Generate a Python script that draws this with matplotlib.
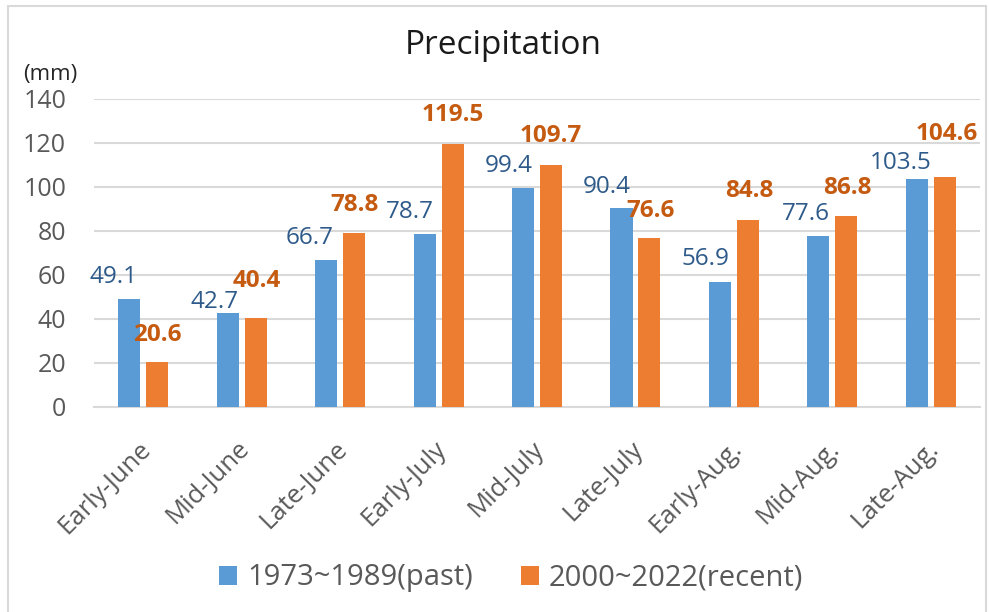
import matplotlib.pyplot as plt
import matplotlib.patches as patches
import matplotlib.transforms as mtransforms
import numpy as np

plt.rcParams['font.family'] = ['Open Sans', 'DejaVu Sans']

categories = ['Early-June', 'Mid-June', 'Late-June', 'Early-July', 'Mid-July',
              'Late-July', 'Early-Aug.', 'Mid-Aug.', 'Late-Aug.']
past = [49.1, 42.7, 66.7, 78.7, 99.4, 90.4, 56.9, 77.6, 103.5]
recent = [20.6, 40.4, 78.8, 119.5, 109.7, 76.6, 84.8, 86.8, 104.6]
series_names = ['1973~1989(past)', '2000~2022(recent)']

# label offsets (pixels) as placed in the original chart
past_dx = [-16, -13, -16, -15, -14, -15, -15, -13, -16]
past_dy = [22, 11, 22, 22, 22, 21, 23, 22, 16]
recent_dx = [0, 1, 0, 0, 0, 1, 1, 1, 2]
recent_dy = [27, 37, 28, 29, 29, 27, 29, 28, 43]

blue = '#5B9BD5'
orange = '#ED7D31'
grid_c = '#D9D9D9'
text_c = '#595959'

fig = plt.figure(figsize=(9.89, 6.12), dpi=100)
ax = fig.add_axes([0.095, 0.335, 0.896, 0.504])

x = np.arange(len(categories))
w = 0.224
off = 0.142
b1 = ax.bar(x - off, past, w, color=blue, label=series_names[0], zorder=3)
b2 = ax.bar(x + off, recent, w, color=orange, label=series_names[1], zorder=3)

for i in range(len(categories)):
    ax.annotate(f'{past[i]:.1f}', xy=(x[i] - off, past[i]),
                xytext=(past_dx[i], past_dy[i]), textcoords='offset pixels',
                ha='center', va='center', fontsize=17.5, color='#2E5A8A', zorder=4)
    ax.annotate(f'{recent[i]:.1f}', xy=(x[i] + off, recent[i]),
                xytext=(recent_dx[i], recent_dy[i]), textcoords='offset pixels',
                ha='center', va='center', fontsize=17.5, fontweight='bold',
                color='#C55A11', zorder=4)

ax.set_xlim(-0.5, len(categories) - 0.5)
ax.set_ylim(0, 140)
ax.set_yticks(np.arange(0, 141, 20))
ax.yaxis.grid(True, color=grid_c, linewidth=1.5, zorder=0)
for s in ['top', 'right', 'left']:
    ax.spines[s].set_visible(False)
ax.spines['bottom'].set_color(grid_c)
ax.spines['bottom'].set_linewidth(1.5)
ax.tick_params(axis='y', length=0, pad=20, labelsize=18, labelcolor=text_c)
ax.tick_params(axis='x', length=0, pad=21, labelsize=18.5, labelcolor=text_c)
ax.set_xticks(x)
ax.set_xticklabels(categories, rotation=45, ha='right', rotation_mode='anchor')
shift = mtransforms.ScaledTranslation(-5 / 100, 0, fig.dpi_scale_trans)
for lab in ax.get_xticklabels():
    lab.set_transform(lab.get_transform() + shift)

fig.text(0.509, 0.925, 'Precipitation', ha='center', va='center', fontsize=24, color='#1a1a1a')
fig.text(0.023, 0.879, '(mm)', ha='left', va='center', fontsize=16, color='#262626')

fig.legend(handles=[b1, b2], loc='center', bbox_to_anchor=(511 / 989, 1 - 578 / 612),
           ncol=2, frameon=False, fontsize=21, labelcolor=text_c,
           handlelength=0.62, handleheight=0.62, handletextpad=0.35, columnspacing=1.65)

fig.patches.append(patches.Rectangle((8 / 989, -0.01), 978 / 989, 1 - 6 / 612 + 0.01,
                                     transform=fig.transFigure, fill=False,
                                     edgecolor=grid_c, linewidth=1.5))

fig.savefig('out.png', dpi=100)
